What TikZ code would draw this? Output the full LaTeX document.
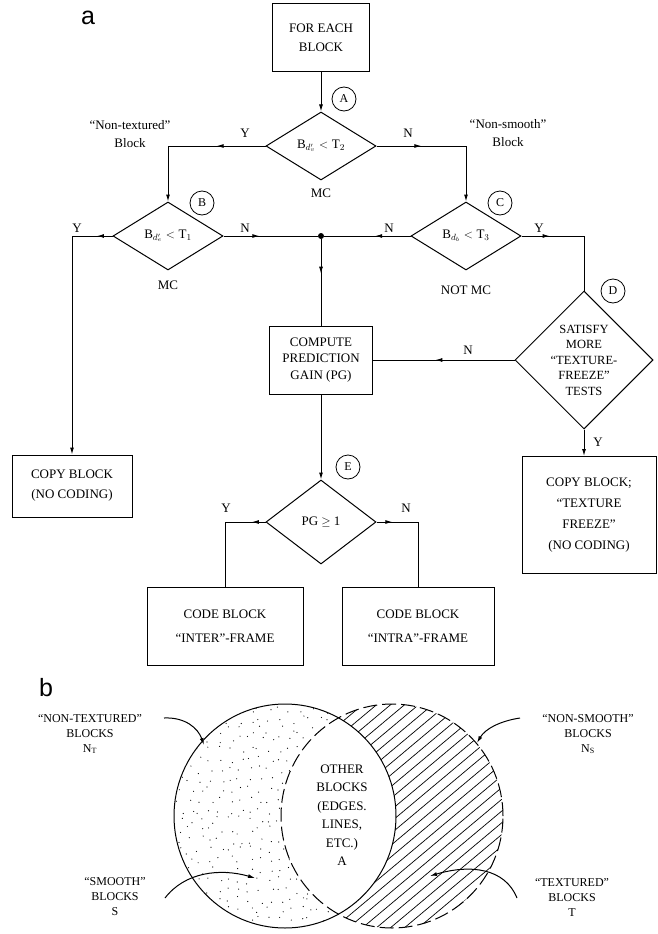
\documentclass[tikz,border=0pt]{standalone}
\usepackage{fontspec}
\setmainfont{Liberation Serif}
\newfontfamily\panelfont{Liberation Sans}
\usetikzlibrary{shapes.geometric}
\usetikzlibrary{arrows.meta}
\usetikzlibrary{decorations.markings}

\begin{document}
\begin{tikzpicture}[x=1pt, y=-1pt,
  every node/.style={font=\fontsize{13}{18.5}\selectfont},
  box/.style={draw, line width=1pt, align=center, inner sep=0pt},
  decision/.style={diamond, draw, line width=1pt, inner sep=0pt, aspect=1.6,
    minimum width=110pt, minimum height=68pt},
  tag/.style={circle, draw, line width=0.8pt, inner sep=0pt, minimum size=24pt,
    font=\fontsize{12}{12}\selectfont},
  panel/.style={font=\panelfont\fontsize{25}{25}\selectfont},
  setlabel/.style={align=center, font=\fontsize{12}{15}\selectfont},
  flow/.style={line width=1pt},
  arrowed/.style={-{Latex[length=7pt, width=4pt]}},
  midarrow/.style={postaction={decorate}, decoration={markings,
    mark=at position #1 with {\arrow{Latex[length=7pt, width=4pt]}}}}]
  \useasboundingbox (0,0) rectangle (657,934);

  % panel a
  \node[panel] (pa) at (88,18) {a};
  \node[box, minimum width=97pt, minimum height=68pt] (each) at (321,38) {FOR EACH\\BLOCK};
  \node[decision] (tA) at (321,146) {B$_{d'_{v}}$\;$<$\;T$_{2}$};
  \node[decision] (tB) at (168,236) {B$_{d'_{e}}$\;$<$\;T$_{1}$};
  \node[decision] (tC) at (466,236) {B$_{d_{b}}$\;$<$\;T$_{3}$};
  \node[decision, minimum width=138pt, minimum height=138pt] (tD) at (584,360) {};
  \node[align=center, font=\fontsize{12.5}{15.5}\selectfont] (tDtext) at (tD)
    {SATISFY\\MORE\\``TEXTURE-\\FREEZE''\\TESTS};
  \node[box, minimum width=103pt, minimum height=68pt, font=\fontsize{13}{16.5}\selectfont]
    (gain) at (321,360) {COMPUTE\\PREDICTION\\GAIN (PG)};
  \node[decision, minimum height=84pt] (tE) at (321,522) {PG $\geq$ 1};
  \node[box, minimum width=120pt, minimum height=62pt, font=\fontsize{13}{20}\selectfont]
    (copy) at (72,486) {COPY BLOCK\\(NO CODING)};
  \node[box, minimum width=134pt, minimum height=117pt, font=\fontsize{13}{21}\selectfont]
    (freeze) at (589,515) {COPY BLOCK;\\``TEXTURE\\FREEZE''\\(NO CODING)};
  \node[box, minimum width=156pt, minimum height=78pt, font=\fontsize{13}{24}\selectfont]
    (inter) at (225,626) {CODE BLOCK\\``INTER''-FRAME};
  \node[box, minimum width=152pt, minimum height=78pt, font=\fontsize{13}{24}\selectfont]
    (intra) at (418,626) {CODE BLOCK\\``INTRA''-FRAME};
  \node[circle, fill, inner sep=0pt, minimum size=6pt] (jn) at (321,236) {};

  \node[tag] (cA) at (344,99) {A};
  \node[tag] (cB) at (202,203) {B};
  \node[tag] (cC) at (500,203) {C};
  \node[tag] (cD) at (613,291) {D};
  \node[tag] (cE) at (348,467) {E};

  \node[align=center] (ntex) at (130,134) {``Non-textured''\\Block};
  \node[align=center] (nsmo) at (508,133) {``Non-smooth''\\Block};
  \node (mcA) at (321,193) {MC};
  \node (mcB) at (168,285) {MC};
  \node (mcC) at (466,290) {NOT MC};
  \node (yA) at (245,133) {Y};
  \node (nA) at (408,133) {N};
  \node (yB) at (77,228) {Y};
  \node (nB) at (245,228) {N};
  \node (nC) at (389,228) {N};
  \node (yC) at (539,228) {Y};
  \node (nD) at (468,350) {N};
  \node (yD) at (598,442) {Y};
  \node (yE) at (226,508) {Y};
  \node (nE) at (406,508) {N};

  \draw[flow, arrowed] (each) -- (tA);
  \draw[flow, arrowed, midarrow=0.32] (tA.west) -| (tB.north);
  \draw[flow, arrowed, midarrow=0.31] (tA.east) -| (tC.north);
  \draw[flow, arrowed, midarrow=0.06] (tB.west) -| (copy.north);
  \draw[flow, midarrow=0.38] (tB.east) -- (jn);
  \draw[flow, midarrow=0.41] (tC.west) -- (jn);
  \draw[flow, midarrow=0.4] (jn) -- (gain);
  \draw[flow, midarrow=0.24] (tC.east) -| (tD.north);
  \draw[flow, midarrow=0.56] (tD.west) -- (gain.east);
  \draw[flow, arrowed] (tD.south) -- (tD.south |- freeze.north);
  \draw[flow, arrowed] (gain) -- (tE);
  \draw[flow, midarrow=0.13] (tE.west) -| (inter.north);
  \draw[flow, midarrow=0.15] (tE.east) -| (intra.north);

  % panel b
  \node[panel] (pb) at (46,688) {b};
  \coordinate (lc) at (285,816);
  \coordinate (rc) at (392,816);
  \pgfmathsetseed{7}
  \begin{scope}
    \clip (lc) ellipse [x radius=111pt, y radius=112pt];
    \foreach \i in {170,180,...,400}
      \foreach \j in {700,710,...,930}
        \fill ({\i+4*rand},{\j+4*rand}) circle (0.6pt);
  \end{scope}
  \begin{scope}
    \clip (rc) ellipse [x radius=111pt, y radius=112pt];
    \foreach \k in {-40,-26,...,470}
      \draw[line width=0.7pt] (\k,960) -- ++(420,-352);
  \end{scope}
  \begin{scope}
    \clip (lc) ellipse [x radius=111pt, y radius=112pt];
    \fill[white] (rc) ellipse [x radius=111pt, y radius=112pt];
  \end{scope}
  \draw[flow] (lc) ellipse [x radius=111pt, y radius=112pt];
  \draw[flow, dash pattern=on 14pt off 5pt] (rc) ellipse [x radius=111pt, y radius=112pt];

  \node[setlabel] (ntb) at (90,734) {``NON-TEXTURED''\\BLOCKS\\N$_{\mathrm{T}}$};
  \node[setlabel] (nsb) at (588,734) {``NON-SMOOTH''\\BLOCKS\\N$_{\mathrm{S}}$};
  \node[setlabel] (smb) at (115,897) {``SMOOTH''\\BLOCKS\\S};
  \node[setlabel] (txb) at (572,897) {``TEXTURED''\\BLOCKS\\T};
  \node[align=center] (oth) at (342,815) {OTHER\\BLOCKS\\(EDGES.\\LINES,\\ETC.)\\A};

  \coordinate (ntst) at (164,718);
  \coordinate (ntend) at (204,745);
  \coordinate (nsst) at (520,718);
  \coordinate (nsend) at (477,743);
  \coordinate (smst) at (165,898);
  \coordinate (smend) at (255,878);
  \coordinate (txst) at (517,898);
  \coordinate (txend) at (430,876);
  \draw[flow, arrowed] (ntst) .. controls (185,717) and (198,728) .. (ntend);
  \draw[flow, arrowed] (nsst) .. controls (500,721) and (485,729) .. (nsend);
  \draw[flow, arrowed] (smst) .. controls (185,872) and (220,868) .. (smend);
  \draw[flow, arrowed] (txst) .. controls (505,868) and (470,864) .. (txend);
\end{tikzpicture}
\end{document}
